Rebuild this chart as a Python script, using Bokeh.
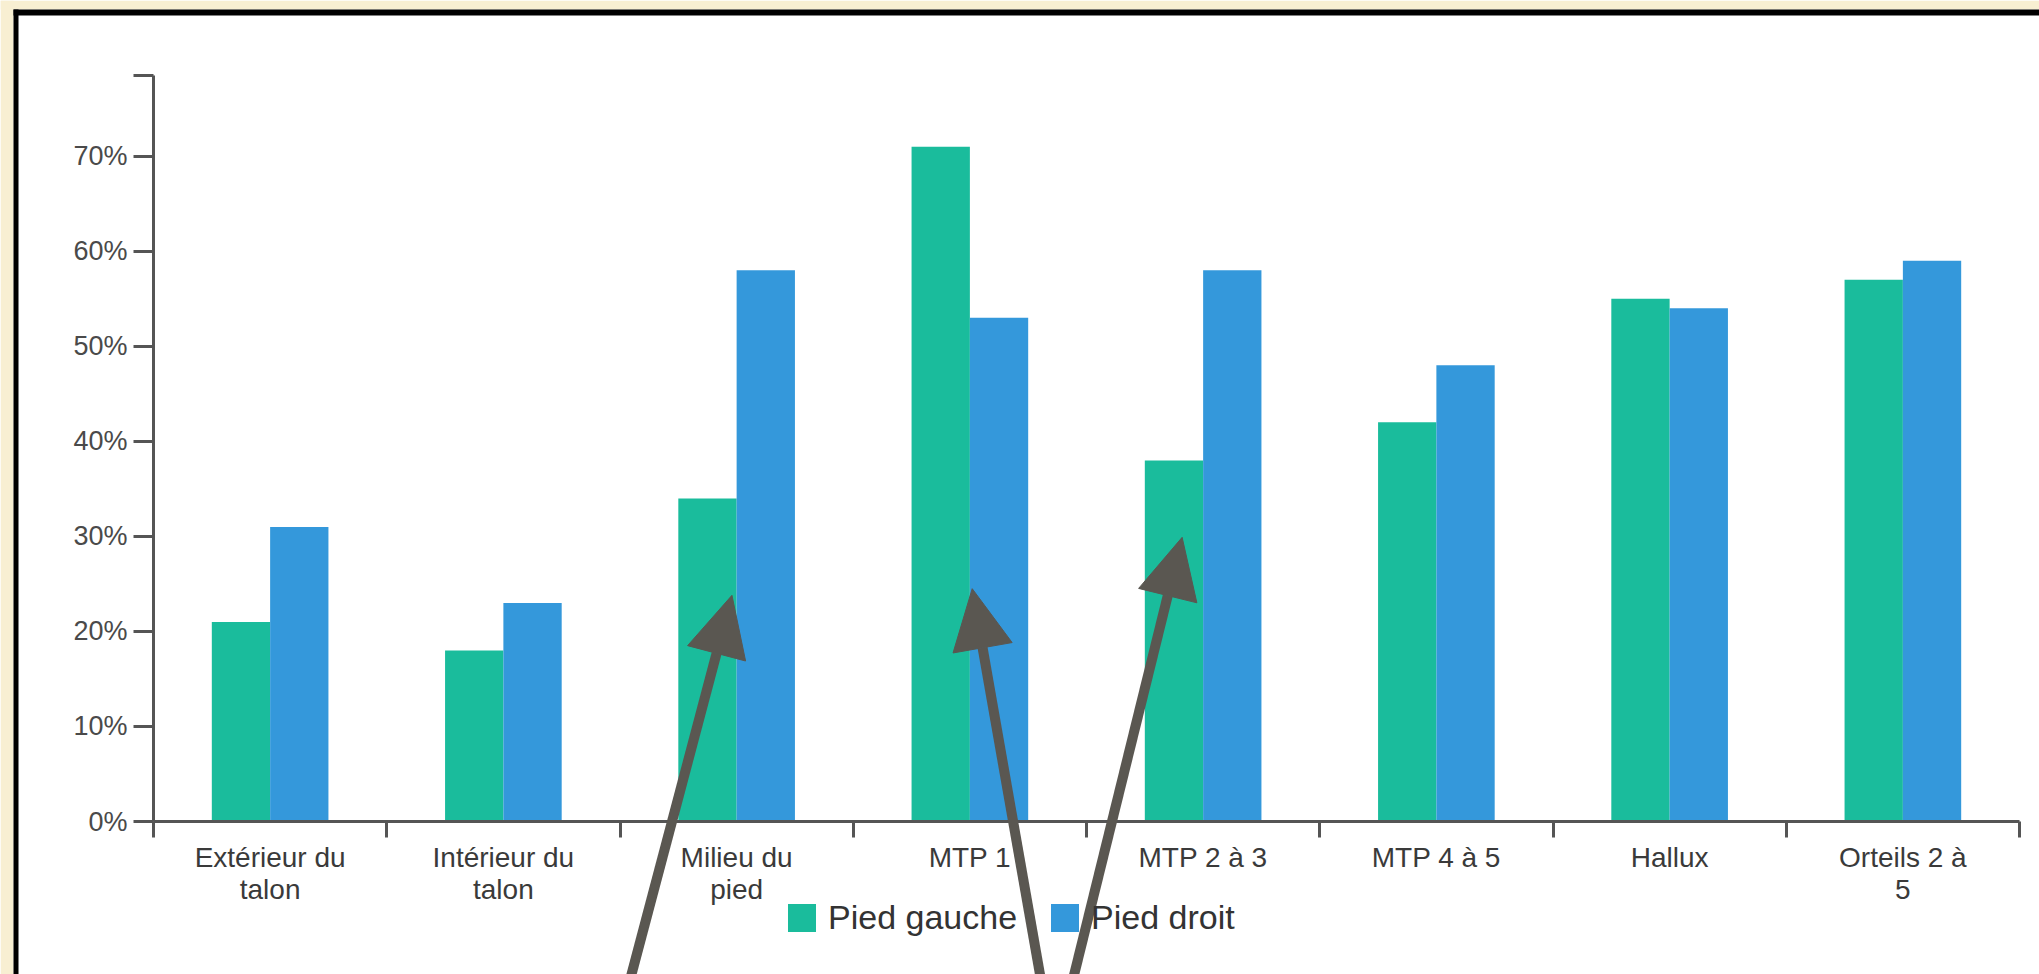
from bokeh.plotting import figure
from bokeh.models import (ColumnDataSource, FixedTicker, Range1d, Legend, LegendItem,
                          Arrow, NormalHead)
from bokeh.embed import file_html
from bokeh.resources import INLINE
from bokeh.transform import dodge

# ---------------- data ----------------
categories = ["Extérieur du\ntalon", "Intérieur du\ntalon", "Milieu du\npied", "MTP 1",
              "MTP 2 à 3", "MTP 4 à 5", "Hallux", "Orteils 2 à\n5"]
pied_gauche = [21, 18, 34, 71, 38, 42, 55, 57]
pied_droit = [31, 23, 58, 53, 58, 48, 54, 59]
series_names = ["Pied gauche", "Pied droit"]
y_ticks = [0, 10, 20, 30, 40, 50, 60, 70]
y_tick_labels = ["0%", "10%", "20%", "30%", "40%", "50%", "60%", "70%"]
y_max = 78.5

# hand-drawn annotation arrows (chart data coordinates): start -> tip
arrow_x_start = [2.02, 3.82, 3.92]
arrow_y_start = [-18.8, -18.8, -18.8]
arrow_x_end = [2.48, 3.51, 4.41]
arrow_y_end = [23.8, 24.5, 29.9]

GREEN = "#1abc9c"
BLUE = "#3498db"
AXIS = "#555555"
CREAM = "#f8efd2"
ARROW = "#5a5751"
FONT = "Liberation Sans"

# ---------------- layout (page pixels) ----------------
PAGE_W, PAGE_H = 2039, 974
AX_L, AX_R, AX_T, AX_B = 153, 2019, 75, 821   # axes box on the page
n = len(categories)
sx = (AX_R - AX_L) / n          # px per category
sy = (AX_B - AX_T) / y_max      # px per percent

def cx(px):
    return (px - AX_L) / sx

def cy(py):
    return (AX_B - py) / sy

x_centers = [i + 0.5 for i in range(n)]
src = ColumnDataSource(dict(x=x_centers, g=pied_gauche, d=pied_droit))

p = figure(width=PAGE_W, height=PAGE_H, output_backend="svg", toolbar_location=None,
           x_range=Range1d(cx(0), cx(PAGE_W)), y_range=Range1d(cy(PAGE_H), cy(0)),
           min_border=0, min_border_left=0, min_border_right=0,
           min_border_top=0, min_border_bottom=0)
p.background_fill_color = "white"
p.border_fill_color = "white"
p.outline_line_color = None
p.grid.visible = False

# screenshot surround: cream strip and black border
p.quad(left=[cx(0), cx(0)], right=[cx(13), cx(PAGE_W)], top=[cy(0), cy(0)],
       bottom=[cy(PAGE_H), cy(9)], fill_color=CREAM, line_color=None)
p.quad(left=[cx(13), cx(13)], right=[cx(18), cx(PAGE_W)], top=[cy(9), cy(9)],
       bottom=[cy(PAGE_H), cy(15)], fill_color="black", line_color=None)

rg = p.vbar(x=dodge("x", -0.125), top="g", width=0.25, source=src,
            fill_color=GREEN, line_color=None)
rd = p.vbar(x=dodge("x", 0.125), top="d", width=0.25, source=src,
            fill_color=BLUE, line_color=None)

for ax in (p.xaxis, p.yaxis):
    ax.fixed_location = 0
    ax.axis_line_color = AXIS
    ax.axis_line_width = 3
    ax.major_tick_line_color = AXIS
    ax.major_tick_line_width = 3
    ax.minor_tick_line_color = AXIS
    ax.minor_tick_line_width = 3
    ax.major_label_text_font = FONT

p.xaxis.bounds = (0, n)
p.xaxis.ticker = FixedTicker(ticks=x_centers, minor_ticks=list(range(n + 1)))
p.xaxis.major_label_overrides = {x: c for x, c in zip(x_centers, categories)}
p.xaxis.major_tick_out = 0
p.xaxis.major_tick_in = 0
p.xaxis.minor_tick_out = 16
p.xaxis.minor_tick_in = 0
p.xaxis.major_label_standoff = 4
p.xaxis.major_label_text_font_size = "28px"
p.xaxis.major_label_text_line_height = 1.05
p.xaxis.major_label_text_color = "#3a3a3a"

p.yaxis.bounds = (0, y_max)
p.yaxis.ticker = FixedTicker(ticks=y_ticks, minor_ticks=[y_max])
p.yaxis.major_label_overrides = {t: l for t, l in zip(y_ticks, y_tick_labels)}
p.yaxis.major_tick_out = 20
p.yaxis.major_tick_in = 0
p.yaxis.minor_tick_out = 20
p.yaxis.minor_tick_in = 0
p.yaxis.major_label_standoff = 6
p.yaxis.major_label_text_font_size = "27px"
p.yaxis.major_label_text_color = "#4a4a4a"

legend = Legend(items=[LegendItem(label=series_names[0], renderers=[rg]),
                       LegendItem(label=series_names[1], renderers=[rd])],
                orientation="horizontal", location=(784, 37),
                glyph_width=35, glyph_height=35, label_height=35,
                label_text_font=FONT, label_text_font_size="34px",
                label_text_color="#333333", label_standoff=9, spacing=30,
                padding=0, margin=0, border_line_alpha=0, background_fill_alpha=0)
p.add_layout(legend)

for xs, ys, xe, ye in zip(arrow_x_start, arrow_y_start, arrow_x_end, arrow_y_end):
    p.add_layout(Arrow(end=NormalHead(size=60, fill_color=ARROW, line_color=ARROW),
                       x_start=xs, y_start=ys, x_end=xe, y_end=ye,
                       line_color=ARROW, line_width=10, level="overlay"))

open("out.html", "w").write(file_html(p, INLINE))
